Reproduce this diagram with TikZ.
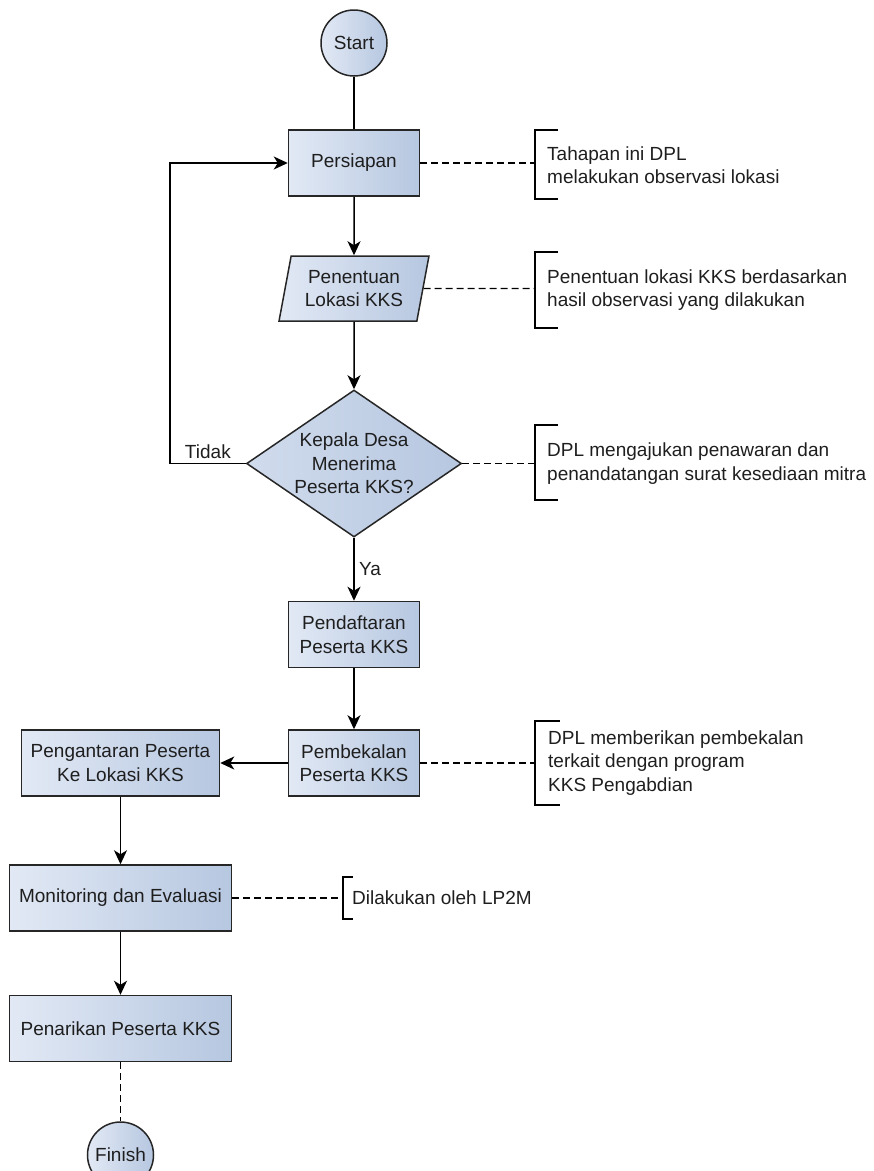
\documentclass[tikz,border=0pt]{standalone}
\usepackage{fontspec}
\setmainfont{Liberation Sans}
\usepackage{tikz}
\usetikzlibrary{shapes.geometric}
\usetikzlibrary{arrows.meta}
\newcommand{\diagfont}{\fontsize{19}{23.5}\selectfont}
\definecolor{boxlight}{HTML}{E2E9F5}
\definecolor{boxdark}{HTML}{B6C7E0}
\definecolor{edgegray}{HTML}{262626}
\definecolor{txtgray}{HTML}{1E1E1E}
\tikzset{every node/.style={font=\diagfont, text=txtgray}}
\tikzstyle{process} = [rectangle, draw=edgegray, line width=1.5pt, left color=boxlight, right color=boxdark, minimum height=66pt, align=center, inner sep=2pt]
\tikzstyle{io} = [trapezium, trapezium left angle=76, trapezium right angle=104, trapezium stretches=true, draw=edgegray, line width=1.5pt, left color=boxlight, right color=boxdark, minimum width=150pt, minimum height=65pt, align=center, inner sep=1pt]
\tikzstyle{decision} = [diamond, aspect=1.46, draw=edgegray, line width=1.5pt, left color=boxlight!60!boxdark, right color=boxdark, minimum width=215pt, minimum height=147pt, align=center, inner sep=0pt]
\tikzstyle{startstop} = [circle, draw=edgegray, line width=1.5pt, left color=boxlight, right color=boxdark, minimum size=66pt, inner sep=0pt]
\tikzstyle{flow} = [line width=1.5pt, -{Stealth[length=14pt,width=13pt,inset=4pt]}]
\tikzstyle{plainline} = [line width=1.5pt]
\tikzstyle{dashconn} = [line width=1.4pt, dash pattern=on 7pt off 4pt]
\tikzstyle{notebracket} = [line width=1.5pt]
\tikzstyle{notetext} = [anchor=west, align=left, inner sep=0pt]

\begin{document}
\begin{tikzpicture}[x=1pt,y=-1pt]
	\useasboundingbox (0,0) rectangle (874,1171);
	\clip (0,0) rectangle (874,1171);
	% main column
	\node[startstop] (start) at (354,43) {Start};
	\node[process, minimum width=131pt] (persiapan) at (354,163) {Persiapan};
	\node[io] (penentuan) at (354,288.5) {Penentuan\\Lokasi KKS};
	\node[decision] (kepala) at (354,463.5) {Kepala Desa\\Menerima\\Peserta KKS?};
	\node[process, minimum width=131pt] (pendaftaran) at (354,634.5) {Pendaftaran\\Peserta KKS};
	\node[process, minimum width=131pt] (pembekalan) at (354,763) {Pembekalan\\Peserta KKS};
	% left column
	\node[process, minimum width=198pt] (pengantaran) at (120.5,763) {Pengantaran Peserta\\Ke Lokasi KKS};
	\node[process, minimum width=222pt] (monitoring) at (120.5,898) {Monitoring dan Evaluasi};
	\node[process, minimum width=222pt] (penarikan) at (120.5,1028.5) {Penarikan Peserta KKS};
	\node[startstop] (finish) at (120.5,1155) {Finish};

	\draw[plainline] (start) -- (persiapan);
	\draw[flow] (persiapan) -- (penentuan);
	\draw[flow] (penentuan) -- (kepala);
	\coordinate (tidak) at (170,463.5);
	\draw[flow] (kepala.west) -- node[above=1pt] {Tidak} (tidak) |- (persiapan);
	\draw[flow] (kepala) -- node[right=1pt, pos=0.5] {Ya} (pendaftaran);
	\draw[flow] (pendaftaran) -- (pembekalan);
	\draw[flow] (pembekalan) -- (pengantaran);
	\draw[flow] (pengantaran) -- (monitoring);
	\draw[flow] (monitoring) -- (penarikan);
	\draw[dashconn] (penarikan) -- (finish);

	% notes
	\coordinate (b1) at (535,163);
	\draw[dashconn] (persiapan) -- (b1);
	\draw[notebracket] (558,130) -- (535,130) -- (535,199) -- (558,199);
	\node[notetext] (note1) at (547,165) {Tahapan ini DPL\\melakukan observasi lokasi};

	\coordinate (b2) at (535,288.5);
	\draw[dashconn] (penentuan) -- (b2);
	\draw[notebracket] (558,252) -- (535,252) -- (535,328) -- (558,328);
	\node[notetext] (note2) at (547,290) {Penentuan lokasi KKS berdasarkan\\hasil observasi yang dilakukan};

	\coordinate (b3) at (535,463.5);
	\draw[dashconn] (kepala) -- (b3);
	\draw[notebracket] (558,425) -- (535,425) -- (535,500) -- (558,500);
	\node[notetext] (note3) at (547,463.5) {DPL mengajukan penawaran dan\\penandatangan surat kesediaan mitra};

	\coordinate (b4) at (535,763);
	\draw[dashconn] (pembekalan) -- (b4);
	\draw[notebracket] (560,721) -- (535,721) -- (535,805) -- (560,805);
	\node[notetext] (note4) at (548,763) {DPL memberikan pembekalan\\terkait dengan program\\KKS Pengabdian};

	\coordinate (b5) at (343,898);
	\draw[dashconn] (monitoring) -- (b5);
	\draw[notebracket] (353,877) -- (343,877) -- (343,919) -- (353,919);
	\node[notetext] (note5) at (352,898) {Dilakukan oleh LP2M};
\end{tikzpicture}
\end{document}
